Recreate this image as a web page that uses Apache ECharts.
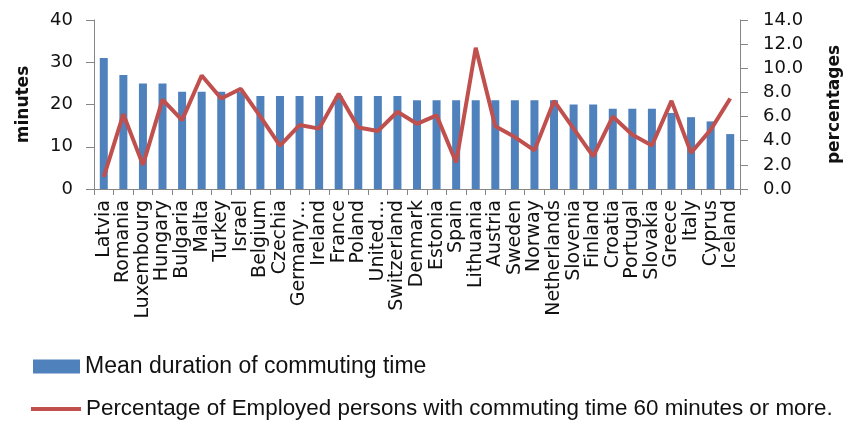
<!DOCTYPE html>
<html>
<head>
<meta charset="utf-8">
<script src="https://cdn.jsdelivr.net/npm/echarts@6/dist/echarts.min.js"></script>
<style>
  html, body { margin: 0; padding: 0; background: #fff; }
  #chart { width: 851px; height: 421px; }
</style>
</head>
<body>
<div id="chart"></div>
<script>
// Countries, ordered by mean commuting time
const countries = [
  'Latvia', 'Romania', 'Luxembourg', 'Hungary', 'Bulgaria', 'Malta', 'Turkey', 'Israel',
  'Belgium', 'Czechia', 'Germany…', 'Ireland', 'France', 'Poland', 'United…', 'Switzerland',
  'Denmark', 'Estonia', 'Spain', 'Lithuania', 'Austria', 'Sweden', 'Norway', 'Netherlands',
  'Slovenia', 'Finland', 'Croatia', 'Portugal', 'Slovakia', 'Greece', 'Italy', 'Cyprus', 'Iceland'
];

// Mean duration of commuting time (minutes)
const meanMinutes = [
  31, 27, 25, 25, 23, 23, 23, 23,
  22, 22, 22, 22, 22, 22, 22, 22,
  21, 21, 21, 21, 21, 21, 21, 21,
  20, 20, 19, 19, 19, 18, 17, 16, 13
];

// Share of employed persons commuting 60 minutes or more (%)
const longCommuteShare = [
  1.0, 6.2, 2.0, 7.4, 5.7, 9.4, 7.5, 8.3,
  6.0, 3.6, 5.3, 5.0, 7.9, 5.1, 4.8, 6.4,
  5.4, 6.1, 2.2, 11.7, 5.2, 4.3, 3.2, 7.3,
  5.0, 2.7, 6.0, 4.5, 3.6, 7.3, 3.0, 4.9, 7.5
];

const minutesTicks = { min: 0, max: 40, interval: 10 };
const percentTicks = { min: 0, max: 14, interval: 2 };

const barName = 'Mean duration of commuting time';
const lineName = 'Percentage of Employed persons with commuting time 60 minutes or more.';

const axisFont = 'DejaVu Sans';
const textColor = '#111111';
const axisGray = '#868686';
const barColor = '#4F81BD';
const lineColor = '#C0504D';

const chart = echarts.init(document.getElementById('chart'), null, { renderer: 'canvas' });

chart.setOption({
  animation: false,
  backgroundColor: '#ffffff',
  grid: { left: 94, right: 104.5, top: 20, bottom: 232 },
  legend: [
    {
      data: [{ name: barName, icon: 'rect' }],
      orient: 'vertical', left: 33, top: 355, padding: 0,
      itemWidth: 47, itemHeight: 14,
      textStyle: { fontFamily: 'Liberation Sans', fontSize: 23, color: textColor },
      selectedMode: false
    },
    {
      data: [{ name: lineName, icon: 'rect', itemStyle: { color: lineColor } }],
      orient: 'vertical', left: 31, top: 398, padding: 0,
      itemWidth: 50, itemHeight: 4,
      textStyle: { fontFamily: 'Liberation Sans', fontSize: 22.4, color: textColor },
      selectedMode: false
    }
  ],
  xAxis: {
    type: 'category',
    data: countries,
    boundaryGap: true,
    axisLine: { lineStyle: { color: axisGray, width: 1 } },
    axisTick: { show: true, length: 6, lineStyle: { color: axisGray } },
    axisLabel: {
      interval: 0, rotate: 90, margin: 11,
      fontFamily: axisFont, fontSize: 19, color: textColor
    }
  },
  yAxis: [
    {
      type: 'value',
      position: 'left',
      min: minutesTicks.min, max: minutesTicks.max, interval: minutesTicks.interval,
      name: 'minutes', nameLocation: 'middle', nameRotate: 90, nameGap: 62,
      nameTextStyle: { fontFamily: axisFont, fontWeight: 'bold', fontSize: 17, color: textColor },
      axisLine: { show: true, lineStyle: { color: axisGray } },
      axisTick: { show: true, length: 8, lineStyle: { color: axisGray } },
      axisLabel: { margin: 21, fontFamily: axisFont, fontSize: 18, color: textColor },
      splitLine: { show: false }
    },
    {
      type: 'value',
      position: 'right',
      min: percentTicks.min, max: percentTicks.max, interval: percentTicks.interval,
      name: 'percentages', nameLocation: 'middle', nameRotate: 90, nameGap: 86,
      nameTextStyle: { fontFamily: axisFont, fontWeight: 'bold', fontSize: 17, color: textColor },
      axisLine: { show: true, lineStyle: { color: axisGray } },
      axisTick: { show: true, length: 8, lineStyle: { color: axisGray } },
      axisLabel: {
        margin: 23, fontFamily: axisFont, fontSize: 18, color: textColor,
        formatter: v => v.toFixed(1)
      },
      splitLine: { show: false }
    }
  ],
  series: [
    {
      name: barName,
      type: 'bar',
      yAxisIndex: 0,
      data: meanMinutes,
      barWidth: 8,
      itemStyle: { color: barColor }
    },
    {
      name: lineName,
      type: 'line',
      yAxisIndex: 1,
      data: longCommuteShare,
      symbol: 'none',
      lineStyle: { color: lineColor, width: 4 },
      itemStyle: { color: lineColor }
    }
  ]
});
</script>
</body>
</html>
